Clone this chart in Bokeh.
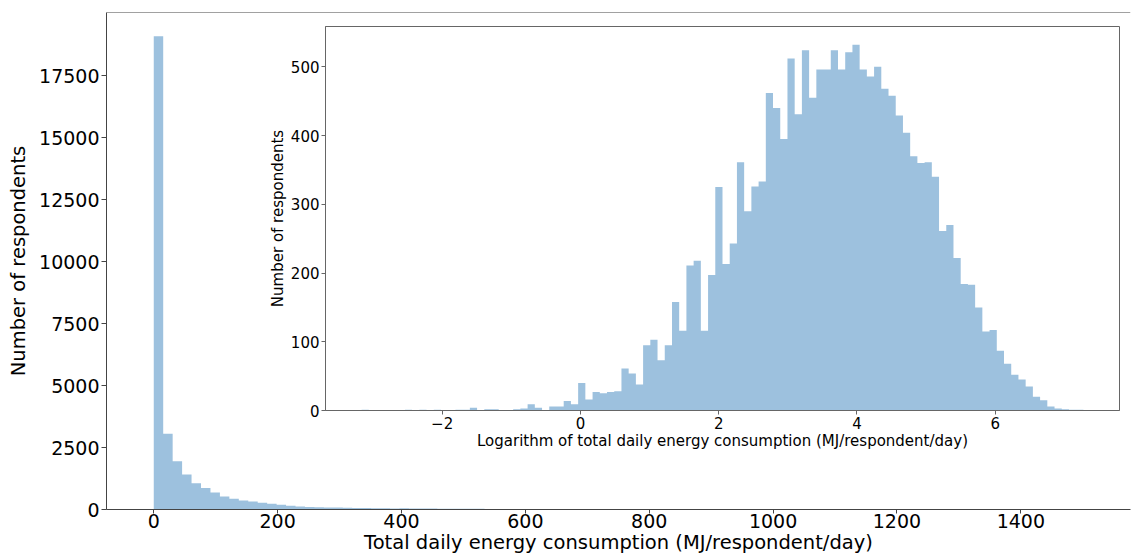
import numpy as np
from bokeh.plotting import figure
from bokeh.layouts import column
from bokeh.models import Range1d, Span, FixedTicker
from bokeh.embed import file_html
from bokeh.resources import INLINE

# ---- main histogram: total daily energy consumption (MJ/respondent/day), 100 bins
main_min = 0.0
main_max = 1526.0
main_counts = [
    19100, 3060, 1950, 1415, 1060, 870, 690, 525, 430, 365,
    320, 270, 230, 190, 150, 122, 100, 92, 82, 76,
    70, 63, 57, 52, 48, 45, 50, 44, 40, 36,
    34, 32, 30, 28, 26, 24, 4, 24, 24, 20,
    14, 5, 4, 3, 3, 2, 2, 2, 1, 1,
    1, 1, 1, 0, 1, 1, 0, 1, 0, 0,
    1, 0, 1, 0, 0, 1, 0, 0, 0, 1,
    0, 0, 1, 0, 0, 0, 1, 0, 0, 0,
    0, 1, 0, 0, 0, 0, 0, 1, 0, 0,
    0, 0, 0, 0, 0, 0, 0, 0, 0, 1,
]
main_xticks = [0, 200, 400, 600, 800, 1000, 1200, 1400]
main_yticks = [0, 2500, 5000, 7500, 10000, 12500, 15000, 17500]

# ---- inset histogram: logarithm of total daily energy consumption, 100 bins
log_min = -3.165
log_max = 7.275
log_counts = [
    1, 0, 0, 0, 0, 0, 1, 0, 1, 0,
    1, 0, 0, 1, 1, 4, 0, 2, 2, 0,
    0, 2, 3, 9, 4, 0, 6, 6, 14, 9,
    40, 16, 27, 25, 27, 28, 61, 54, 38, 95,
    103, 73, 95, 158, 116, 211, 218, 116, 197, 325,
    213, 243, 361, 290, 326, 333, 462, 440, 395, 512,
    431, 524, 455, 496, 496, 524, 496, 521, 532, 496,
    486, 500, 468, 458, 429, 404, 370, 360, 361, 340,
    261, 270, 222, 184, 183, 150, 115, 117, 87, 68,
    52, 45, 35, 20, 15, 6, 3, 2, 1, 1,
]
log_xticks = [-2, 0, 2, 4, 6]
log_yticks = [0, 100, 200, 300, 400, 500]

BAR = "#9dc1de"
FONT = "DejaVu Sans"

main_edges = np.linspace(main_min, main_max, len(main_counts) + 1)
log_edges = np.linspace(log_min, log_max, len(log_counts) + 1)

# ---------------- main figure (its right side runs past the window edge)
R = main_max - main_min
main = figure(
    width=1131, height=559,
    x_range=Range1d(main_min - 0.05 * R, main_max + 0.0335 * R),
    y_range=Range1d(0, max(main_counts) * 1.05),
    output_backend="svg", toolbar_location=None,
    min_border_left=106, min_border_right=0, min_border_top=12, min_border_bottom=50,
)
main.varea_step(x=list(main_edges), y1=0, y2=main_counts + [main_counts[-1]],
                step_mode="after", fill_color=BAR)
main.outline_line_color = None
main.grid.visible = False
main.add_layout(Span(location=max(main_counts) * 1.05, dimension="width",
                     line_color="#444444", line_width=1))
for ax in (main.xaxis[0], main.yaxis[0]):
    ax.axis_line_color = "#444444"
    ax.major_tick_line_color = "#444444"
    ax.major_tick_out = 5
    ax.major_tick_in = 0
    ax.minor_tick_out = 0
    ax.minor_tick_in = 0
    ax.major_label_text_font = FONT
    ax.major_label_text_font_size = "19px"
    ax.major_label_text_color = "black"
    ax.axis_label_text_font = FONT
    ax.axis_label_text_font_size = "19.5px"
    ax.axis_label_text_font_style = "normal"
    ax.axis_label_text_color = "black"
main.xaxis[0].ticker = FixedTicker(ticks=main_xticks)
main.yaxis[0].ticker = FixedTicker(ticks=main_yticks)
main.xaxis[0].axis_label = "Total daily energy consumption (MJ/respondent/day)"
main.yaxis[0].axis_label = "Number of respondents"
main.xaxis[0].major_tick_out = 4
main.xaxis[0].major_label_standoff = 0
main.xaxis[0].axis_label_standoff = 0
main.yaxis[0].major_label_standoff = 2
main.yaxis[0].axis_label_standoff = 6

# ---------------- inset figure
Rl = log_max - log_min
inset = figure(
    width=901, height=434,
    x_range=Range1d(log_min - 0.05 * Rl, log_max + 0.05 * Rl),
    y_range=Range1d(0, max(log_counts) * 1.05),
    output_backend="svg", toolbar_location=None,
    min_border_left=60, min_border_right=1, min_border_top=2, min_border_bottom=48,
)
inset.varea_step(x=list(log_edges), y1=0, y2=log_counts + [log_counts[-1]],
                 step_mode="after", fill_color=BAR)
inset.border_fill_color = None
inset.background_fill_color = "white"
inset.outline_line_color = "#666666"
inset.outline_line_width = 1
inset.grid.visible = False
for ax in (inset.xaxis[0], inset.yaxis[0]):
    ax.axis_line_color = "#666666"
    ax.major_tick_line_color = "#666666"
    ax.major_tick_out = 4
    ax.major_tick_in = 0
    ax.minor_tick_out = 0
    ax.minor_tick_in = 0
    ax.major_label_text_font = FONT
    ax.major_label_text_font_size = "15px"
    ax.major_label_text_color = "black"
    ax.axis_label_text_font = FONT
    ax.axis_label_text_font_size = "15px"
    ax.axis_label_text_font_style = "normal"
    ax.axis_label_text_color = "black"
inset.xaxis[0].ticker = FixedTicker(ticks=log_xticks)
inset.yaxis[0].ticker = FixedTicker(ticks=log_yticks)
inset.xaxis[0].major_label_overrides = {t: ("\u2212" + str(abs(t)) if t < 0 else str(t)) for t in log_xticks}
inset.xaxis[0].axis_label = "Logarithm of total daily energy consumption (MJ/respondent/day)"
inset.yaxis[0].axis_label = "Number of respondents"
inset.xaxis[0].major_label_standoff = 2
inset.xaxis[0].axis_label_standoff = 0
inset.yaxis[0].major_label_standoff = 2
inset.yaxis[0].axis_label_standoff = 1

# overlay the inset on the main axes
inset.styles = {"position": "absolute", "left": "219px", "top": "24px"}
p = column(main, inset, spacing=0)

open("out.html", "w").write(file_html(p, INLINE))
